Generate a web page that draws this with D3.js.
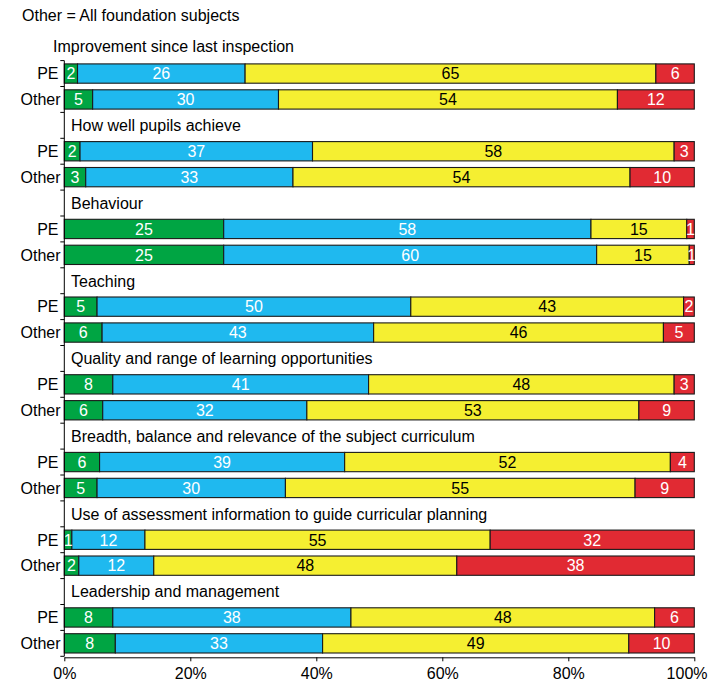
<!DOCTYPE html>
<html>
<head>
<meta charset="utf-8">
<script src="https://cdn.jsdelivr.net/npm/d3@7"></script>
<style>
  body { margin: 0; background: #fff; }
  svg text { font-family: "Liberation Sans", Arial, sans-serif; }
</style>
</head>
<body>
<svg id="chart" width="709" height="684"></svg>
<script>
const note = "Other = All foundation subjects";
const groups = [
  "Improvement since last inspection",
  "How well pupils achieve",
  "Behaviour",
  "Teaching",
  "Quality and range of learning opportunities",
  "Breadth, balance and relevance of the subject curriculum",
  "Use of assessment information to guide curricular planning",
  "Leadership and management"
];
const rowLabels = ["PE", "Other"];
const colors = ["#00a543", "#1fb9ef", "#f5ef31", "#e12a33"];
const textColors = ["#ffffff", "#ffffff", "#000000", "#ffffff"];

// printed labels (rounded percentages)
const peLabels = [
  [2, 26, 65, 6],
  [2, 37, 58, 3],
  [25, 58, 15, 1],
  [5, 50, 43, 2],
  [8, 41, 48, 3],
  [6, 39, 52, 4],
  [1, 12, 55, 32],
  [8, 38, 48, 6]
];
const otherLabels = [
  [5, 30, 54, 12],
  [3, 33, 54, 10],
  [25, 60, 15, 1],
  [6, 43, 46, 5],
  [6, 32, 53, 9],
  [5, 30, 55, 9],
  [2, 12, 48, 38],
  [8, 33, 49, 10]
];
// segment shares (unrounded estimates)
const peShares = [
  [2.1, 26.6, 65.2, 6.1],
  [2.5, 36.9, 57.4, 3.2],
  [25.3, 58.3, 15.2, 1.2],
  [5.2, 49.8, 43.3, 1.7],
  [7.7, 40.6, 48.5, 3.2],
  [5.6, 38.9, 51.7, 3.8],
  [1.2, 11.6, 54.8, 32.4],
  [7.7, 37.8, 48.2, 6.3]
];
const otherShares = [
  [4.5, 29.5, 53.8, 12.2],
  [3.4, 32.9, 53.5, 10.2],
  [25.3, 59.2, 14.7, 0.8],
  [6.0, 43.1, 46.0, 4.9],
  [6.1, 32.4, 52.7, 8.8],
  [5.2, 29.9, 55.5, 9.4],
  [2.3, 11.9, 48.1, 37.7],
  [8.1, 32.9, 48.6, 10.4]
];
const xTicks = [0, 0.2, 0.4, 0.6, 0.8, 1];

const svg = d3.select("#chart");
const left = 64.3, right = 694.3;
const slotH = 25.9;
const top0 = 34.7 + slotH; // first data slot top
const fs = 16;

const slots = [];
groups.forEach((g, gi) => {
  if (gi > 0) slots.push({key: "h" + gi, type: "heading", text: g});
  slots.push({key: "pe" + gi, type: "bar", label: rowLabels[0], labels: peLabels[gi], shares: peShares[gi]});
  slots.push({key: "ot" + gi, type: "bar", label: rowLabels[1], labels: otherLabels[gi], shares: otherShares[gi]});
});

const y = d3.scaleBand().domain(slots.map(s => s.key))
  .range([top0, top0 + slots.length * slotH]).padding(0);
const x = d3.scaleLinear().domain([0, 1]).range([left, right]);
const bottom = top0 + slots.length * slotH;

svg.append("text").attr("x", 22).attr("y", 21).attr("font-size", fs).text(note);
svg.append("text").attr("x", 53).attr("y", 52).attr("font-size", fs).text(groups[0]);

svg.append("defs").append("clipPath").attr("id", "plotclip")
  .append("rect").attr("x", left).attr("y", top0).attr("width", right - left + 0.5).attr("height", bottom - top0);

const barInset = 3.3;
const barH = y.bandwidth() - 2 * barInset;

const plot = svg.append("g");
slots.forEach(s => {
  const y0 = y(s.key);
  const yc = y0 + y.bandwidth() / 2;
  if (s.type === "heading") {
    plot.append("text").attr("x", 71).attr("y", yc)
      .attr("dy", "0.36em").attr("font-size", fs).text(s.text);
    return;
  }
  const total = d3.sum(s.shares);
  let cum = 0;
  const segs = s.shares.map((v, i) => {
    const seg = {i, label: s.labels[i], a: cum / total, b: (cum + v) / total};
    cum += v;
    return seg;
  });
  const g = plot.append("g");
  g.selectAll("rect").data(segs).join("rect")
    .attr("x", d => x(d.a)).attr("width", d => x(d.b) - x(d.a))
    .attr("y", y0 + barInset).attr("height", barH)
    .attr("fill", d => colors[d.i]).attr("stroke", "#1a1a1a").attr("stroke-width", 1.1);
  g.append("g").attr("clip-path", "url(#plotclip)")
    .selectAll("text").data(segs).join("text")
    .attr("x", d => (x(d.a) + x(d.b)) / 2)
    .attr("y", yc).attr("dy", "0.36em")
    .attr("text-anchor", "middle").attr("font-size", fs)
    .attr("fill", d => textColors[d.i]).text(d => d.label);
  svg.append("text").attr("x", s.label === "PE" ? 58.5 : 60.5).attr("y", yc)
    .attr("dy", "0.36em").attr("text-anchor", "end").attr("font-size", fs).text(s.label);
});

// left axis
const boundaries = slots.map(s => y(s.key)).concat([bottom]);
const ax = svg.append("g").attr("stroke", "#000").attr("stroke-width", 1);
ax.append("line").attr("x1", left).attr("x2", left).attr("y1", top0).attr("y2", bottom);
ax.selectAll("line.t").data(boundaries).join("line").attr("class", "t")
  .attr("x1", left - 4).attr("x2", left).attr("y1", d => d).attr("y2", d => d);

// bottom axis
const xAxis = d3.axisBottom(x).tickValues(xTicks).tickFormat(d3.format(".0%")).tickSizeInner(4).tickSizeOuter(0);
const xa = svg.append("g").attr("transform", `translate(0,${bottom + 1})`).call(xAxis);
xa.select(".domain").attr("stroke", "#000");
xa.selectAll(".tick line").attr("stroke", "#000");
xa.selectAll("text").attr("font-size", fs).attr("fill", "#000")
  .attr("font-family", "Liberation Sans, Arial, sans-serif").attr("dy", "0.95em");
// keep the last label inside the picture
xa.selectAll(".tick text").filter(d => d === 1)
  .attr("text-anchor", "end").attr("x", 707 - x(1));
</script>
</body>
</html>
